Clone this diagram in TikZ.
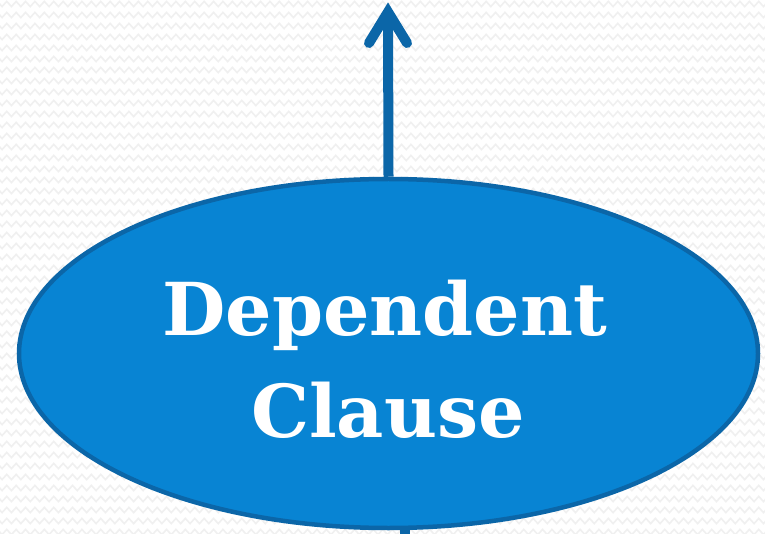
\documentclass[tikz,border=0pt]{standalone}
\usepackage{fontspec}
\newfontfamily\clausefont{DejaVu Serif}
\usetikzlibrary{shapes.geometric,decorations.pathmorphing}
\definecolor{ellfill}{HTML}{0884D3}
\definecolor{ellline}{HTML}{0B66A8}
\definecolor{zig}{HTML}{F0F0F0}
\tikzset{
  bubble/.style={ellipse, draw=ellline, line width=4.5pt, fill=ellfill,
    inner sep=0pt, minimum width=739pt, minimum height=349pt},
  words/.style={text=white, inner sep=0pt, anchor=base,
    font=\clausefont\bfseries\fontsize{73}{88}\selectfont},
  link/.style={draw=ellline, line width=10pt},
  barb/.style={draw=ellline, line width=10pt, line cap=round, line join=miter},
  zigline/.style={draw=zig, line width=1.6pt, decorate,
    decoration={zigzag, segment length=9.4pt, amplitude=2.6pt}}
}
\begin{document}
\begin{tikzpicture}[x=1pt,y=-1pt]
\useasboundingbox (0,0) rectangle (765,534);
\fill[white] (0,0) rectangle (765,534);
\begin{scope}
\clip (0,0) rectangle (765,534);
\foreach \r in {0,...,49}{
  \path[zigline] (-5,{4+\r*11}) -- (775,{4+\r*11});
}
\end{scope}
\coordinate (tipc) at (388,12);
\coordinate (bot) at (404.5,540);
\node[bubble] (e) at (388.5,353.5) {};
\node[words] (w1) at (385,335) {Dependent};
\node[words] (w2) at (388,437) {Clause};
\path[link] (e.north) -- (tipc);
\path[barb] (369,43) -- (tipc) -- (407,43);
\path[link] (bot |- e.south) -- (bot);
\end{tikzpicture}
\end{document}
